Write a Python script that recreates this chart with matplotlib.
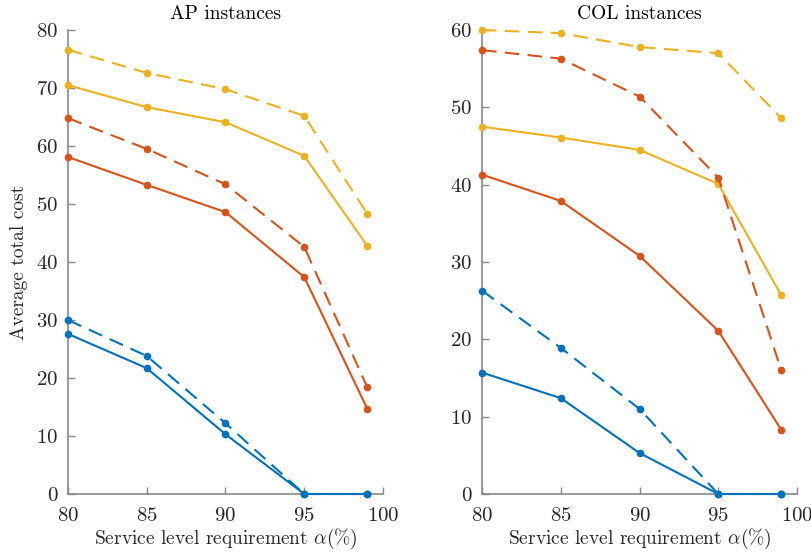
import matplotlib
matplotlib.use('Agg')
import matplotlib.pyplot as plt

plt.rcParams['font.family'] = 'serif'
plt.rcParams['font.serif'] = ['cmr10']
plt.rcParams['mathtext.fontset'] = 'cm'
plt.rcParams['axes.formatter.use_mathtext'] = True

alpha = [80, 85, 90, 95, 99]

# AP instances
ap_yellow_dash = [76.6, 72.6, 69.8, 65.2, 48.3]
ap_yellow = [70.5, 66.7, 64.1, 58.3, 42.8]
ap_red_dash = [64.8, 59.5, 53.4, 42.6, 18.4]
ap_red = [58.1, 53.3, 48.6, 37.4, 14.7]
ap_blue_dash = [30.0, 23.8, 12.2, 0, 0]
ap_blue = [27.6, 21.7, 10.3, 0, 0]

# COL instances
col_yellow_dash = [60.0, 59.6, 57.8, 57.0, 48.6]
col_yellow = [47.5, 46.1, 44.5, 40.1, 25.7]
col_red_dash = [57.4, 56.3, 51.4, 40.9, 16.0]
col_red = [41.3, 37.9, 30.8, 21.1, 8.3]
col_blue_dash = [26.3, 18.9, 11.0, 0, 0]
col_blue = [15.7, 12.4, 5.3, 0, 0]

blue = '#0072BD'
red = '#D95319'
yellow = '#EDB120'
dash = (0, (7, 4))

fig = plt.figure(figsize=(8.12, 5.54), dpi=100)
ax1 = fig.add_axes([0.0837, 0.1083, 0.388, 0.8375])
ax2 = fig.add_axes([0.5936, 0.1083, 0.388, 0.8375])

def draw(ax, series, ymax, title):
    for y, c, ls in series:
        ax.plot(alpha, y, color=c, linestyle=ls, linewidth=1.5,
                marker='o', markersize=4.5, clip_on=False, zorder=3)
    ax.set_xlim(80, 100)
    ax.set_ylim(0, ymax)
    ax.set_xticks([80, 85, 90, 95, 100])
    ax.set_yticks(range(0, ymax + 1, 10))
    for s in ['top', 'right']:
        ax.spines[s].set_visible(False)
    for s in ['left', 'bottom']:
        ax.spines[s].set_color('#888888')
        ax.spines[s].set_linewidth(1.2)
    ax.tick_params(direction='in', length=5, width=1, color='#888888',
                   labelcolor='#262626', labelsize=15)
    ax.tick_params(axis='x', pad=9)
    ax.tick_params(axis='y', pad=7)
    ax.set_title(title, fontsize=14, pad=8)
    ax.set_xlabel(r'Service level requirement $\alpha(\%)$', fontsize=14,
                  color='#262626', labelpad=2)

draw(ax1, [(ap_yellow_dash, yellow, dash), (ap_yellow, yellow, '-'),
           (ap_red_dash, red, dash), (ap_red, red, '-'),
           (ap_blue_dash, blue, dash), (ap_blue, blue, '-')], 80, 'AP instances')
draw(ax2, [(col_yellow_dash, yellow, dash), (col_yellow, yellow, '-'),
           (col_red_dash, red, dash), (col_red, red, '-'),
           (col_blue_dash, blue, dash), (col_blue, blue, '-')], 60, 'COL instances')
ax1.set_ylabel('Average total cost', fontsize=14, color='#262626', labelpad=6)

fig.savefig('out.png', dpi=100)
